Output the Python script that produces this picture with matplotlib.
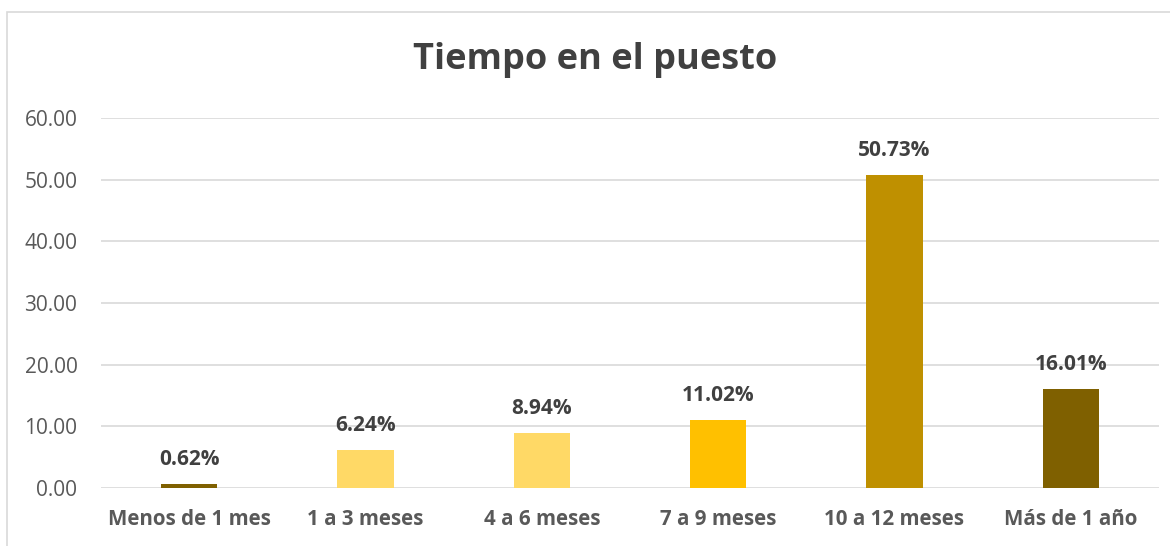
import matplotlib.pyplot as plt
from matplotlib.patches import Rectangle

categories = ["Menos de 1 mes", "1 a 3 meses", "4 a 6 meses", "7 a 9 meses", "10 a 12 meses", "Más de 1 año"]
values = [0.62, 6.24, 8.94, 11.02, 50.73, 16.01]
labels = ["0.62%", "6.24%", "8.94%", "11.02%", "50.73%", "16.01%"]
colors = ["#7F6000", "#FFD966", "#FFD966", "#FFC000", "#BF9000", "#7F6000"]

plt.rcParams['font.family'] = ['Open Sans', 'DejaVu Sans']

fig = plt.figure(figsize=(11.7, 5.46), dpi=100)
fig.patches.append(Rectangle((7 / 1170, -0.1), 1.2, (546 - 12) / 546 + 0.1,
                             transform=fig.transFigure, facecolor='none',
                             edgecolor='#D9D9D9', linewidth=1.2))

ax = fig.add_axes([101 / 1170, 1 - 488 / 546, 1058 / 1170, 370 / 546])
x = range(len(categories))
ax.bar(x, values, width=0.32, color=colors, zorder=3)

for i, (v, lab) in enumerate(zip(values, labels)):
    ax.annotate(lab, (i, v), xytext=(0, 10), textcoords='offset points',
                ha='center', va='bottom', fontsize=15, fontweight='bold', color='#404040')

ax.set_xlim(-0.5, len(categories) - 0.5)
ax.set_ylim(0, 60)
ax.set_yticks(range(0, 61, 10))
ax.set_yticklabels([f"{t:.2f}" for t in range(0, 61, 10)])
ax.set_xticks(list(x))
ax.set_xticklabels(categories, fontweight='bold')
ax.tick_params(axis='y', length=0, pad=17, labelsize=15, labelcolor='#595959')
ax.tick_params(axis='x', length=0, pad=15, labelsize=14.8, labelcolor='#595959')
ax.grid(axis='y', color='#D9D9D9', linewidth=1.2, zorder=0)
for s in ax.spines.values():
    s.set_visible(False)

fig.text(595 / 1170, 1 - 60 / 546, "Tiempo en el puesto", ha='center', va='center',
         fontsize=26, fontweight='bold', color='#404040')

fig.savefig("out.png", dpi=100)
